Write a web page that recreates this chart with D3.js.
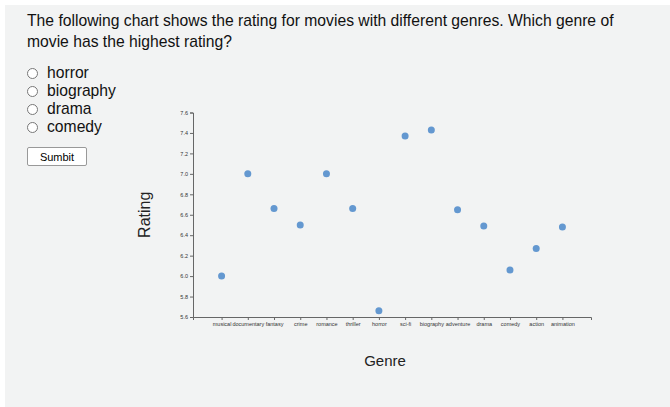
<!DOCTYPE html>
<html lang="en">
<head>
    <meta charset="UTF-8">
    <script src="https://cdn.jsdelivr.net/npm/d3@7"></script>
    <title>Movie genre rating</title>
    <style>
        body {
            margin: 0;
            background: white;
            font-family: "Liberation Sans", Arial, Helvetica, sans-serif;
            overflow: hidden;
        }
        .panel {
            position: absolute;
            left: 5px;
            top: 5px;
            width: 700px;
            height: 420px;
            background: #f2f3f3;
        }
        .question {
            position: absolute;
            left: 27px;
            top: 10px;
            width: 610px;
            font-size: 15.7px;
            line-height: 21px;
            color: #111;
        }
        .options {
            position: absolute;
            left: 27px;
            top: 64px;
            font-size: 15.7px;
            line-height: 18px;
            color: #111;
        }
        .options label { display: block; height: 18px; }
        .options input { margin: 0 9px 0 0; width: 11px; height: 11px; vertical-align: -1px; }
        .submit {
            position: absolute;
            left: 27px;
            top: 147px;
            width: 60px;
            height: 19px;
            font-size: 11px;
            font-family: "Liberation Sans", Arial, sans-serif;
            background: white;
            border: 1px solid #999;
            border-radius: 2px;
            padding: 0;
        }
        #chart { position: absolute; left: 0; top: 0; }
    </style>
</head>
<body>
    <div class="panel"></div>
    <div class="question">The following chart shows the rating for movies with different genres. Which genre of movie has the highest rating?</div>
    <div class="options"></div>
    <button class="submit">Sumbit</button>
    <svg id="chart" width="670" height="407"></svg>

    <script>
        const genres = ["musical", "documentary", "fantasy", "crime", "romance", "thriller", "horror",
            "sci-fi", "biography", "adventure", "drama", "comedy", "action", "animation"]
        const ratings = [6.0, 7.0, 6.66, 6.5, 7.0, 6.66, 5.66, 7.37, 7.43, 6.65, 6.49, 6.06, 6.27, 6.48]
        const choices = ["horror", "biography", "drama", "comedy"]
        const yTicks = [5.6, 5.8, 6.0, 6.2, 6.4, 6.6, 6.8, 7.0, 7.2, 7.4, 7.6]

        d3.select(".options").selectAll("label")
            .data(choices)
            .enter()
            .append("label")
            .html(d => `<input type="radio" name="genre" value="${d}">${d}`)

        const svg = d3.select("#chart")
        const plotLeft = 193, plotRight = 591, plotTop = 112.5, plotBottom = 317

        const x = d3.scalePoint()
            .domain(genres)
            .range([plotLeft, plotRight])
            .padding(1.09)
        const y = d3.scaleLinear()
            .domain([5.6, 7.6])
            .range([plotBottom, plotTop])

        svg.append("g")
            .attr("transform", `translate(0,${plotBottom})`)
            .call(d3.axisBottom(x).tickSize(3).tickPadding(2))
        svg.append("g")
            .attr("transform", `translate(${plotLeft},0)`)
            .call(d3.axisLeft(y).tickValues(yTicks).tickFormat(d3.format(".1f")).tickSize(3).tickPadding(2))

        svg.selectAll(".domain, .tick line").attr("stroke", "#666")
        svg.selectAll(".tick text")
            .attr("font-size", "5.5px")
            .attr("font-family", "Liberation Sans, Arial, sans-serif")
            .attr("fill", "#333")

        svg.selectAll("circle.dot")
            .data(genres)
            .enter()
            .append("circle")
            .attr("class", "dot")
            .attr("cx", d => x(d))
            .attr("cy", (d, i) => y(ratings[i]))
            .attr("r", 3.5)
            .attr("fill", "#6498d0")

        svg.append("text")
            .attr("transform", `translate(150,${(plotTop + plotBottom) / 2}) rotate(-90)`)
            .attr("text-anchor", "middle")
            .attr("font-size", "16px")
            .attr("fill", "#222")
            .text("Rating")

        svg.append("text")
            .attr("x", 385)
            .attr("y", 366)
            .attr("text-anchor", "middle")
            .attr("font-size", "15px")
            .attr("fill", "#222")
            .text("Genre")
    </script>
</body>
</html>
